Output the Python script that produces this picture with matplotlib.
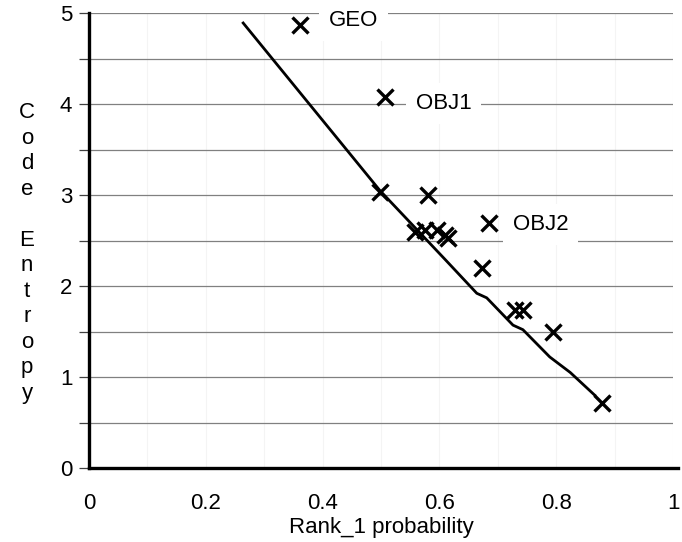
import numpy as np
import matplotlib
matplotlib.use('Agg')
import matplotlib.pyplot as plt
from matplotlib.ticker import MultipleLocator, FuncFormatter

plt.rcParams['font.family'] = ['Liberation Sans', 'DejaVu Sans']

# measured points (Rank_1 probability vs code entropy)
rank1_prob = [0.361, 0.507, 0.498, 0.580, 0.685, 0.558, 0.575, 0.596, 0.610, 0.615,
              0.673, 0.730, 0.743, 0.795, 0.878]
code_entropy = [4.87, 4.08, 3.03, 3.00, 2.69, 2.59, 2.62, 2.62, 2.56, 2.53,
                2.20, 1.74, 1.74, 1.49, 0.71]

# fitted curve
fit_x = [0.264, 0.367, 0.498, 0.610, 0.664, 0.681, 0.726, 0.743, 0.789, 0.824, 0.866]
fit_y = [4.89, 4.08, 3.05, 2.29, 1.92, 1.87, 1.57, 1.52, 1.22, 1.05, 0.80]

# labelled points: (name, x, y, offset in points)
labels = [('GEO', 0.361, 4.87, (21, 3)),
          ('OBJ1', 0.507, 4.08, (22, -5)),
          ('OBJ2', 0.685, 2.69, (17, -1))]

fig = plt.figure(figsize=(6.82, 5.42), dpi=100)
ax = fig.add_axes([89/682, 1 - 468/542, (673 - 89)/682, (468 - 13)/542])

ax.set_xlim(0, 1)
ax.set_ylim(0, 5)

# grid
ax.xaxis.set_major_locator(MultipleLocator(0.2))
ax.xaxis.set_minor_locator(MultipleLocator(0.1))
ax.yaxis.set_major_locator(MultipleLocator(0.5))
ax.grid(axis='x', which='both', color='#f4f4f4', lw=0.8, zorder=0)
ax.grid(axis='y', which='major', color='#808080', lw=0.9, zorder=0)
ax.set_axisbelow(True)

ax.plot(fit_x, fit_y, color='black', lw=2.0, zorder=3, clip_on=False)
ax.plot(rank1_prob, code_entropy, ls='none', marker='x', ms=11, mew=2.4,
        color='black', zorder=4, clip_on=False)

for name, x, y, off in labels:
    ax.annotate(name, (x, y), xytext=off, textcoords='offset points',
                ha='left', va='center', fontsize=16, zorder=5,
                bbox=dict(facecolor='white', edgecolor='none', pad=7))

def fmt_x(v, pos):
    if abs(v) < 1e-9:
        return '0'
    if abs(v - 1) < 1e-9:
        return '1'
    return '%.1f' % v

def fmt_y(v, pos):
    if abs(v - round(v)) < 1e-9:
        return '%d' % round(v)
    return ''

ax.xaxis.set_major_formatter(FuncFormatter(fmt_x))
ax.yaxis.set_major_formatter(FuncFormatter(fmt_y))
ax.tick_params(axis='x', which='both', length=0, pad=18, labelsize=16)
ax.tick_params(axis='y', which='major', length=7, width=0.9, color='#404040',
               pad=5, labelsize=16)

for s in ['top', 'right']:
    ax.spines[s].set_visible(False)
ax.spines['left'].set_linewidth(2.4)
ax.spines['bottom'].set_linewidth(2.4)
ax.spines['bottom'].set_bounds(0, 1.008)

ax.set_xlabel('Rank_1 probability', fontsize=16, labelpad=2)
fig.text(27/682, 1 - 253/542, 'C\no\nd\ne\n\nE\nn\nt\nr\no\np\ny', fontsize=16,
         ha='center', va='center', multialignment='center', linespacing=1.28)

fig.savefig('out.png', dpi=100)
